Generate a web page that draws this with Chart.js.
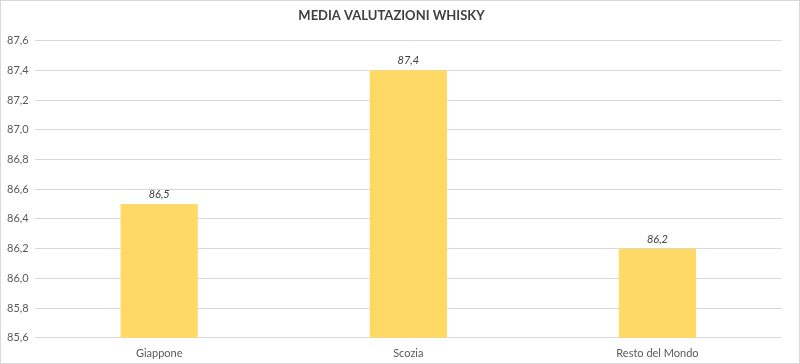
<!DOCTYPE html>
<html>
<head>
<meta charset="utf-8">
<script src="https://cdn.jsdelivr.net/npm/chart.js@4/dist/chart.umd.min.js"></script>
<style>
  body { margin: 0; background: #fff; }
  #wrap { position: relative; width: 798px; height: 362px; border: 1px solid #d9d9d9; }
</style>
</head>
<body>
<div id="wrap"><canvas id="chart"></canvas></div>
<script>
// categorie e valori medi
var categories = ["Giappone", "Scozia", "Resto del Mondo"];
var mediaValori = [86.5, 87.4, 86.2];
var yMin = 85.6, yMax = 87.6, yStep = 0.2;

var fmt = (v) => v.toFixed(1).replace(".", ",");

// etichette valori sopra le barre (corsivo)
var valueLabels = {
    id: "valueLabels",
    afterDatasetsDraw(chart) {
        var ctx = chart.ctx;
        var meta = chart.getDatasetMeta(0);
        ctx.save();
        ctx.font = "italic 11px Lato";
        ctx.fillStyle = "#404040";
        ctx.textAlign = "center";
        ctx.textBaseline = "bottom";
        meta.data.forEach(function(bar, i) {
            ctx.fillText(fmt(chart.data.datasets[0].data[i]), bar.x, bar.y - 4);
        });
        ctx.restore();
    }
};

new Chart(document.getElementById("chart").getContext("2d"), {
    type: "bar",
    data: {
        labels: categories,
        datasets: [{
            data: mediaValori,
            backgroundColor: "#FFD966",
            categoryPercentage: 1,
            barPercentage: 0.31
        }]
    },
    plugins: [valueLabels],
    options: {
        responsive: true,
        maintainAspectRatio: false,
        animation: false,
        layout: { padding: { left: 0, right: 17, top: 7, bottom: -6 } },
        plugins: {
            legend: { display: false },
            tooltip: { enabled: false },
            title: {
                display: true,
                text: "MEDIA VALUTAZIONI WHISKY",
                color: "#404040",
                font: { family: "Lato", size: 13, weight: "bold" },
                padding: { top: 0, bottom: 17 }
            }
        },
        scales: {
            x: {
                grid: { display: false, drawTicks: false },
                border: { display: false },
                ticks: { color: "#595959", font: { family: "Lato", size: 11 }, padding: 9 }
            },
            y: {
                min: yMin,
                max: yMax,
                ticks: {
                    stepSize: yStep,
                    color: "#595959",
                    font: { family: "Lato", size: 11 },
                    padding: 6,
                    callback: (v) => fmt(v)
                },
                grid: { color: "#d9d9d9", drawTicks: false },
                border: { display: false }
            }
        }
    }
});
</script>
</body>
</html>
